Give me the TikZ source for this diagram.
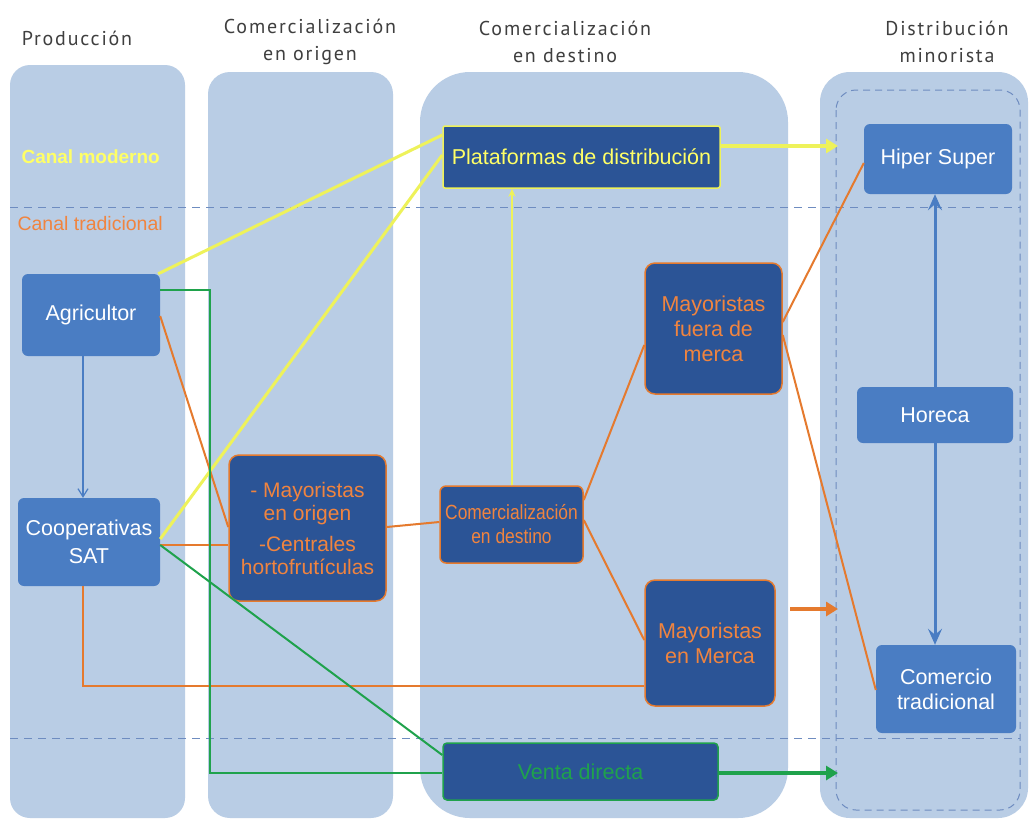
\documentclass[tikz,border=0pt]{standalone}
\usepackage{fontspec}
\setmainfont{Liberation Sans}
\newfontfamily\headfont[LetterSpace=9]{PT Sans}
\newfontfamily\narrowfont[FakeStretch=0.85]{Liberation Sans}
\usetikzlibrary{arrows.meta,calc}
\definecolor{colbg}{HTML}{B9CDE5}
\definecolor{nmid}{HTML}{4A7DC3}
\definecolor{ndark}{HTML}{2B5496}
\definecolor{orl}{HTML}{E57A2E}
\definecolor{ortx}{HTML}{F0843F}
\definecolor{yel}{HTML}{EEF25A}
\definecolor{yeltx}{HTML}{FFFF66}
\definecolor{grn}{HTML}{1FA24C}
\definecolor{dashc}{HTML}{6E8CC0}
\definecolor{headc}{HTML}{3F3F3F}
\begin{document}
\begin{tikzpicture}[x=1pt,y=-1pt,
  head/.style={font=\headfont\fontsize{20}{27}\selectfont,text=headc,align=center},
  basebox/.style={rounded corners=6pt,inner sep=0pt,align=center,font=\fontsize{21.5}{25}\selectfont},
  midbox/.style={basebox,fill=nmid,text=white},
  darkor/.style={basebox,fill=ndark,draw=orl,line width=1.5pt,text=ortx,rounded corners=10pt},
  darkyel/.style={basebox,fill=ndark,draw=yel,line width=1.5pt,text=yeltx,rounded corners=2pt},
  darkgrn/.style={basebox,fill=ndark,draw=grn,line width=1.5pt,text=grn,rounded corners=4pt},
  sep/.style={draw=dashc,line width=1pt,dash pattern=on 8pt off 6pt},
  yline/.style={draw=yel,line width=3pt},
  oline/.style={draw=orl,line width=2pt},
  gline/.style={draw=grn,line width=2pt},
  bigarrow/.style={line width=3.5pt,-{Triangle[length=12pt,width=14pt]}},
  barrow/.style={draw=nmid,line width=3pt,-{Stealth[length=16pt,width=14pt,inset=6pt]}}
]
\useasboundingbox (0,0) rectangle (1030,823);
\fill[white] (0,0) rectangle (1030,823);
% columns
\fill[colbg,rounded corners=20pt] (10,65) rectangle (185,818);
\fill[colbg,rounded corners=22pt] (208,72) rectangle (393,818);
\fill[colbg,rounded corners=50pt] (420,72) rectangle (788,818);
\fill[colbg,rounded corners=30pt] (820,72) rectangle (1028,818);
\draw[draw=dashc,line width=1pt,dash pattern=on 7pt off 5pt,rounded corners=20pt] (836,90) rectangle (1020,810);
% headers
\node[head] (h1) at (77,38) {Producción};
\node[head] (h2) at (310,42) {Comercialización\\en origen};
\node[head] (h3) at (565,42) {Comercialización\\en destino};
\node[head] (h4) at (947,42) {Distribución\\minorista};
% separators
\coordinate (s1a) at (10,207); \coordinate (s1b) at (1020,207);
\coordinate (s2a) at (10,738); \coordinate (s2b) at (1020,738);
\draw[sep] (s1a) -- (s1b);
\draw[sep] (s2a) -- (s2b);
% channel labels
\node[anchor=west,text=yeltx,font=\bfseries\fontsize{19}{21}\selectfont] (cm) at (18,157) {Canal moderno};
\node[anchor=west,text=ortx,font=\fontsize{19.5}{21}\selectfont] (ct) at (14,224) {Canal tradicional};
% nodes
\node[darkyel,minimum width=277pt,minimum height=62pt] (plat) at (581.5,157) {Plataformas de distribución};
\node[midbox,minimum width=148pt,minimum height=70pt] (hiper) at (938,159) {Hiper Super};
\node[midbox,minimum width=138pt,minimum height=82pt] (agr) at (91,315) {Agricultor};
\node[midbox,minimum width=142pt,minimum height=88pt] (coop) at (89,542) {Cooperativas\\[3pt]SAT};
\node[darkor,minimum width=157pt,minimum height=146pt,font=\fontsize{21}{23}\selectfont] (mayo) at (307.5,528) {- Mayoristas\\en origen\\[8pt]-Centrales\\hortofrutículas};
\node[darkor,minimum width=143pt,minimum height=77pt,rounded corners=6pt,font=\narrowfont\fontsize{20.5}{24}\selectfont] (cdest) at (511.5,524.5) {Comercialización\\en destino};
\node[darkor,minimum width=137pt,minimum height=131pt] (mfue) at (713.5,328.5) {Mayoristas\\fuera de\\merca};
\node[midbox,minimum width=156pt,minimum height=56pt] (hore) at (935,415) {Horeca};
\node[darkor,minimum width=130pt,minimum height=126pt] (mmer) at (710,643) {Mayoristas\\en Merca};
\node[midbox,minimum width=140pt,minimum height=88pt] (comt) at (946,689) {Comercio\\tradicional};
\node[darkgrn,minimum width=275pt,minimum height=57pt] (vent) at (580.5,771.5) {Venta directa};
% yellow connectors
\draw[yline] ([xshift=-2pt]agr.north east) -- (plat.west |- 0,135);
\draw[yline] (coop.east |- 0,539) -- (plat.west |- 0,155);
\draw[draw=yel,line width=1.5pt,-{Stealth[length=8pt,width=7pt]}] (cdest.north -| 512,0) -- (plat.south -| 512,0);
\coordinate (yend) at (838,146);
\draw[draw=yel,bigarrow] (plat.east |- 0,146) -- (yend);
% blue connectors
\draw[draw=nmid,line width=1.2pt,-{Straight Barb[length=8pt,width=10pt]}] (agr.south -| 83,0) -- (coop.north -| 83,0);
\draw[barrow] (hore.north) -- (hore.north |- hiper.south);
\draw[barrow] (hore.south) -- (hore.south |- comt.north);
% orange connectors
\draw[oline] (agr.east |- 0,316) -- (mayo.west |- 0,527);
\draw[oline] (coop.east |- 0,545) -- (mayo.west |- 0,545);
\draw[oline] (mayo.east |- 0,527) -- (cdest.west |- 0,522);
\draw[oline] (cdest.east |- 0,500) -- (mfue.west |- 0,345);
\draw[oline] (cdest.east |- 0,520) -- (mmer.west |- 0,640);
\draw[oline] (mfue.east |- 0,322) -- (hiper.west |- 0,163);
\draw[oline] (mfue.east |- 0,335) -- (comt.west |- 0,690);
\draw[oline] (coop.south -| 83,0) -- (83,686) -- (mmer.west |- 0,686);
\coordinate (oend) at (838,609);
\coordinate (ostart) at (790,609);
\draw[draw=orl,line width=3.5pt,-{Triangle[length=12pt,width=14pt]}] (ostart) -- (oend);
% green connectors
\draw[gline] (agr.east |- 0,290) -- (210,290) -- (210,773) -- (vent.west |- 0,773);
\draw[gline] (coop.east |- 0,545) -- (vent.west |- 0,755);
\coordinate (gend) at (838,773);
\draw[draw=grn,bigarrow] (vent.east |- 0,773) -- (gend);
\end{tikzpicture}
\end{document}
